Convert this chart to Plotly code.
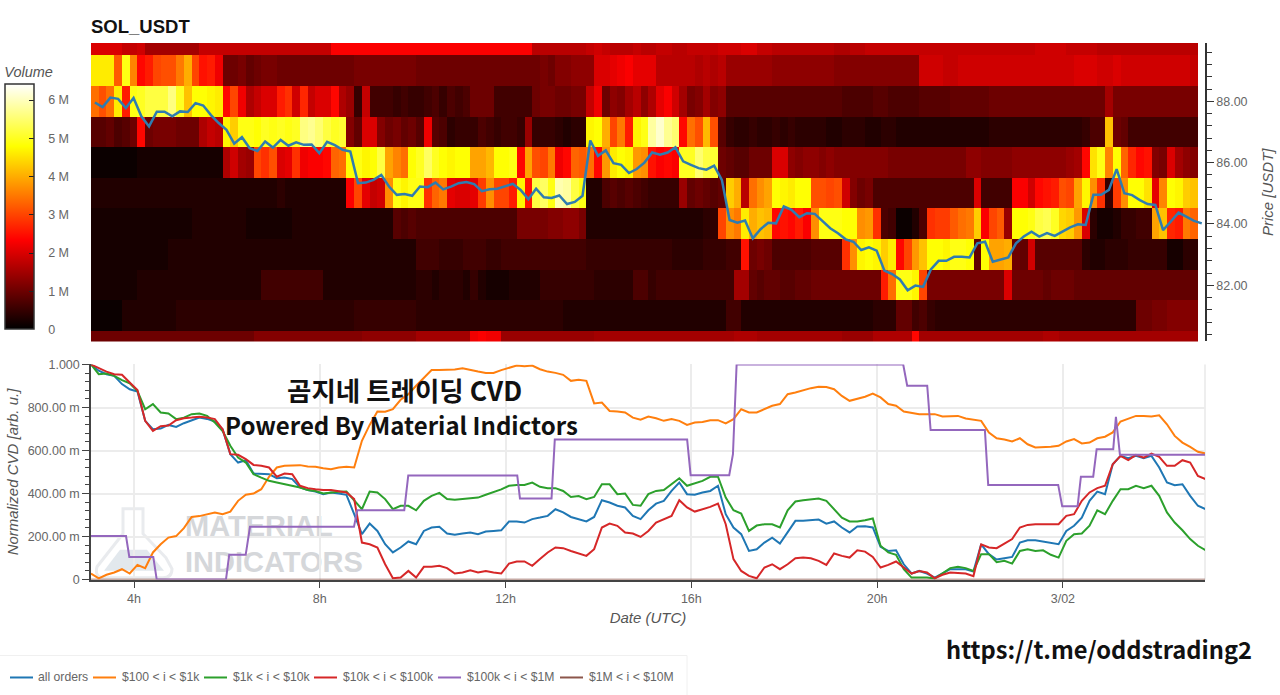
import pandas as pd
import plotly.graph_objects as go

# Volume heatmap, one list per price level, in millions (10 min columns)
row_80 = [1.0,1.0,1.0,1.0,1.0,1.0,1.0,1.0,1.0,1.0,
          1.0,1.0,1.0,1.0,1.0,1.0,1.0,1.0,1.0,1.0,
          1.0,1.2,1.2,1.2,1.2,1.2,1.2,1.2,1.2,1.2,
          1.2,1.2,1.2,1.2,1.2,1.3,1.3,1.3,1.3,1.3,
          1.3,1.3,1.5,1.5,1.5,1.5,1.5,1.5,1.5,2.2,
          2.3,2.2,2.2,1.4,1.4,1.4,1.4,1.4,1.4,1.4,
          1.4,1.4,1.4,1.4,1.4,1.5,1.5,1.5,1.5,1.5,
          1.5,1.5,1.5,1.5,1.5,1.5,1.5,1.5,1.5,1.5,
          1.5,1.5,1.5,1.6,1.6,1.6,1.5,1.5,1.5,1.5,
          1.5,1.5,1.5,1.5,1.5,1.5,1.5,1.4,1.4,1.4,
          1.4,1.6,1.6,1.6,1.6,1.6,2.4,1.5,1.5,1.5,
          1.5,1.5,1.5,1.5,1.5,1.5,1.5,1.5,1.5,1.5,
          1.5,1.5,1.5,1.6,1.6,1.5,1.5,1.5,1.5,1.5,
          1.5,1.5,1.5,1.5,1.5,1.5,1.5,1.5,1.5,1.5,
          1.5,1.5,1.5]
row_81 = [0.1,0.1,0.1,0.1,0.3,0.3,0.3,0.3,0.3,0.3,
          0.3,0.4,0.4,0.4,0.4,0.4,0.4,0.4,0.4,0.4,
          0.4,0.4,0.4,0.4,0.4,0.4,0.4,0.4,0.4,0.4,
          0.4,0.4,0.4,0.4,0.5,0.5,0.5,0.5,0.5,0.5,
          0.5,0.5,0.4,0.4,0.4,0.4,0.4,0.4,0.4,0.4,
          0.4,0.4,0.4,0.4,0.4,0.4,0.4,0.4,0.4,0.4,
          0.4,0.3,0.3,0.3,0.3,0.3,0.3,0.3,0.3,0.3,
          0.3,0.3,0.3,0.3,0.3,0.3,0.3,0.3,0.3,0.3,
          0.3,0.3,0.6,0.6,0.3,0.3,0.3,0.3,0.3,0.3,
          0.3,0.3,0.3,0.3,0.3,0.3,0.3,0.3,0.3,0.3,
          0.3,0.4,0.4,0.4,0.9,0.9,0.6,0.7,0.5,0.4,
          0.4,0.4,0.4,0.4,0.4,0.4,0.4,0.4,0.4,0.4,
          0.4,0.4,0.4,0.4,0.4,0.4,0.4,0.4,0.4,0.4,
          0.4,0.4,0.4,0.4,0.4,1.0,1.0,1.1,1.1,1.2,
          1.2,1.2,1.2]
row_82 = [0.2,0.2,0.2,0.2,0.2,0.2,0.3,0.3,0.3,0.3,
          0.3,0.3,0.3,0.3,0.3,0.3,0.3,0.3,0.3,0.3,
          0.3,0.3,0.6,0.6,0.6,0.6,0.6,0.6,0.6,0.6,
          0.3,0.3,0.3,0.3,0.3,0.3,0.3,0.3,0.3,0.3,
          0.3,0.3,0.4,0.4,0.3,0.4,0.4,0.4,0.3,0.5,
          0.3,0.2,0.2,0.2,0.3,0.3,0.3,0.3,0.5,0.5,
          0.5,0.5,0.5,0.5,0.5,0.4,0.4,0.4,0.4,0.4,
          0.7,0.7,0.5,0.6,0.6,0.6,0.6,0.6,0.6,0.6,
          0.6,0.6,0.6,1.5,1.5,0.9,0.8,0.9,0.9,0.8,
          0.8,0.9,0.9,1.0,1.0,1.0,1.0,1.0,1.0,1.0,
          1.0,1.0,2.6,3.4,4.9,4.9,4.7,3.0,1.1,1.1,
          1.1,1.1,1.1,1.1,1.1,1.1,1.1,1.1,2.0,1.0,
          1.0,1.0,1.0,0.9,1.0,1.0,1.0,0.9,0.9,0.9,
          0.9,0.9,0.9,0.9,0.9,0.9,0.9,0.9,0.9,0.9,
          0.9,0.9,0.9]
row_83 = [0.2,0.2,0.2,0.2,0.2,0.2,0.2,0.2,0.2,0.2,
          0.3,0.3,0.3,0.3,0.3,0.3,0.3,0.3,0.3,0.3,
          0.3,0.3,0.3,0.3,0.3,0.3,0.3,0.3,0.3,0.3,
          0.3,0.3,0.3,0.3,0.3,0.3,0.3,0.3,0.3,0.3,
          0.3,0.3,0.6,0.6,0.6,0.5,0.5,0.5,0.6,0.6,
          0.6,0.5,0.5,0.6,0.6,0.6,0.6,0.6,0.6,0.6,
          0.6,0.6,0.6,0.6,0.5,0.5,0.5,0.5,0.5,0.5,
          0.5,0.5,0.5,0.5,0.5,0.4,0.4,0.4,0.4,0.5,
          0.5,0.5,0.6,0.6,2.5,1.0,1.1,1.0,0.7,0.7,
          0.7,0.7,0.7,0.8,0.8,0.8,0.8,2.8,3.7,4.7,
          4.8,4.7,4.3,4.6,2.4,3.0,3.8,4.2,4.8,4.8,
          4.7,4.9,4.9,4.8,0.9,4.8,3.9,3.9,4.0,1.0,
          0.9,1.9,0.8,0.8,0.8,0.8,0.8,0.8,0.4,0.3,
          0.3,0.4,0.4,0.4,0.5,0.5,0.5,0.5,0.5,0.2,
          0.2,0.4,0.4]
row_84 = [0.2,0.2,0.2,0.2,0.2,0.2,0.2,0.2,0.2,0.2,
          0.2,0.2,0.2,0.3,0.3,0.3,0.3,0.3,0.3,0.3,
          0.2,0.2,0.2,0.2,0.2,0.2,0.3,0.3,0.3,0.3,
          0.3,0.3,0.3,0.3,0.3,0.3,0.3,0.3,0.3,0.8,
          0.7,0.8,0.7,0.7,0.7,0.7,0.7,0.7,0.7,0.7,
          0.7,0.7,0.7,0.7,0.7,1.1,1.1,1.1,1.1,1.2,
          1.2,1.3,1.3,1.1,0.3,0.3,0.3,0.3,0.3,0.3,
          0.3,0.3,0.3,0.3,0.3,0.3,0.3,0.3,0.3,0.4,
          0.4,3.0,3.7,3.5,4.6,4.0,4.2,4.1,2.4,2.5,
          2.4,2.6,2.3,3.7,4.9,4.9,4.9,4.8,4.8,3.7,
          3.8,2.8,0.7,0.6,0.1,0.1,0.3,0.7,2.8,2.9,
          2.9,3.2,3.4,3.5,4.3,2.3,3.0,3.2,1.4,4.8,
          4.8,4.9,5.2,5.3,5.0,4.4,4.3,3.8,2.0,0.4,
          0.2,0.2,0.3,0.5,0.5,0.6,0.6,3.9,4.2,2.7,
          2.6,3.5,3.3]
row_85 = [0.3,0.3,0.3,0.3,0.3,0.3,0.3,0.3,0.3,0.3,
          0.3,0.3,0.3,0.3,0.3,0.3,0.3,0.3,0.3,0.3,
          0.3,0.3,0.3,0.3,0.4,0.3,0.3,0.3,0.3,0.3,
          0.3,0.3,0.3,2.3,3.0,2.1,1.8,1.9,3.7,4.9,
          4.7,4.9,4.9,2.8,3.3,3.5,2.1,2.0,2.0,2.1,
          2.9,3.7,3.0,3.0,2.6,4.7,2.5,5.2,5.4,4.9,
          5.9,5.8,5.2,4.9,0.3,0.3,0.7,0.8,0.7,0.8,
          0.7,0.6,0.5,0.5,0.5,0.5,1.4,0.9,1.0,0.9,
          0.8,0.9,4.3,4.0,1.7,3.4,3.7,3.9,4.8,4.7,
          4.6,4.8,4.8,3.1,3.1,3.0,3.1,1.9,1.2,1.0,
          1.1,0.7,0.7,0.7,0.7,0.7,0.7,0.7,0.7,0.7,
          0.7,0.7,0.7,0.7,2.0,0.6,0.6,0.6,0.6,2.3,
          2.3,1.9,2.4,2.5,2.6,3.1,3.0,3.9,4.7,3.7,
          2.8,0.5,2.9,3.7,4.8,4.8,4.5,2.1,3.6,4.8,
          4.7,4.3,4.2]
row_86 = [0.1,0.1,0.1,0.1,0.1,0.1,0.2,0.2,0.2,0.2,
          0.2,0.2,0.2,0.2,0.2,0.2,0.2,1.6,1.9,1.5,
          1.4,3.0,2.8,3.1,2.0,2.1,2.8,2.2,2.3,2.3,
          2.4,3.3,3.4,4.8,4.9,4.7,4.8,5.2,3.9,3.6,
          3.4,4.8,5.0,5.4,5.0,4.8,4.7,4.8,4.8,3.9,
          3.9,4.1,4.8,4.8,4.9,2.4,3.9,3.1,3.0,3.5,
          2.2,2.4,3.3,3.2,3.4,2.4,3.8,4.6,4.8,4.7,
          3.8,3.7,2.5,2.3,2.4,2.3,5.0,5.0,5.5,5.2,
          5.1,1.0,0.9,0.8,0.8,1.0,1.0,1.0,2.0,2.0,
          1.3,1.2,1.3,1.3,1.2,1.3,1.2,1.2,1.2,1.2,
          1.2,1.2,1.2,1.1,1.1,1.1,1.1,1.1,1.1,1.1,
          1.1,1.1,1.1,1.3,1.3,1.2,1.2,1.2,1.2,1.3,
          1.3,1.3,1.3,1.3,1.3,1.3,1.4,1.5,2.4,4.5,
          4.9,3.6,4.8,3.3,2.7,2.4,2.5,1.2,1.1,2.0,
          1.5,1.3,1.2]
row_87 = [0.8,0.8,0.9,0.7,0.8,1.0,2.4,1.0,1.1,1.1,
          1.1,1.0,1.0,1.0,1.6,1.8,1.7,4.7,4.3,4.9,
          4.9,4.8,5.0,4.9,5.0,4.9,5.0,5.6,5.7,5.5,
          5.2,5.0,5.1,1.2,0.9,2.0,2.0,1.2,1.0,1.1,
          0.9,1.0,0.8,2.2,0.8,0.7,0.4,0.5,0.5,0.5,
          0.7,0.6,0.5,0.6,0.6,0.5,1.4,0.5,0.5,0.5,
          0.4,0.3,0.4,0.4,4.7,4.8,4.0,3.0,3.5,2.6,
          4.7,4.9,5.8,6.1,5.7,5.5,2.4,3.4,3.1,4.1,
          3.1,0.8,0.5,0.4,0.4,0.5,0.4,0.4,0.5,0.4,
          0.5,0.4,0.4,0.4,0.4,0.3,0.3,0.4,0.4,0.4,
          0.3,0.3,0.4,0.4,0.3,0.3,0.3,0.3,0.3,0.3,
          0.3,0.3,0.3,0.3,0.3,0.3,0.4,0.4,0.4,0.4,
          0.4,0.4,0.4,0.4,0.4,0.4,0.4,0.4,0.5,0.7,
          0.7,4.2,1.0,0.9,0.6,0.6,0.6,0.6,0.6,0.6,
          0.6,0.6,0.6]
row_88 = [3.4,3.1,3.4,4.6,2.6,4.9,5.0,5.2,5.2,5.2,
          5.6,5.0,4.2,4.8,4.8,4.7,4.6,2.4,3.0,2.2,
          1.6,1.8,2.0,2.0,2.6,2.8,1.9,2.7,1.8,2.0,
          2.0,2.4,1.6,1.4,0.5,1.8,0.6,0.6,0.6,0.5,
          0.6,0.5,0.5,0.6,0.7,0.5,0.7,0.6,0.7,1.0,
          1.0,1.0,0.6,0.6,0.6,0.6,0.6,1.0,1.1,1.1,
          1.0,1.0,1.1,1.1,1.8,2.2,1.0,1.3,1.2,1.5,
          1.7,1.3,1.6,2.1,2.3,1.9,1.5,1.1,1.2,1.5,
          1.2,1.3,0.8,0.8,0.8,0.8,0.8,0.8,0.8,0.8,
          0.8,0.8,0.8,0.8,0.8,0.8,0.8,0.7,0.7,0.7,
          0.7,0.8,0.8,0.7,0.7,0.7,0.7,0.8,0.8,0.8,
          0.8,0.9,0.9,0.9,0.9,0.9,1.0,1.0,1.0,1.0,
          1.0,1.0,1.0,1.0,1.0,1.0,1.0,1.0,1.0,1.0,
          1.0,1.5,1.1,1.1,1.1,1.1,1.1,1.1,1.1,1.1,
          1.1,1.1,1.1]
row_89 = [4.6,4.6,4.6,3.2,4.9,3.6,2.4,2.6,3.0,3.1,
          3.1,3.5,4.0,3.0,2.5,2.6,2.2,1.0,1.0,1.1,
          0.9,1.0,1.1,1.1,1.0,1.0,1.0,1.0,1.0,1.0,
          1.0,1.0,1.0,1.0,1.1,1.1,1.1,1.1,1.1,1.1,
          1.1,1.1,1.0,1.0,1.0,1.0,1.0,1.0,1.0,1.0,
          1.0,1.0,1.0,1.0,1.0,1.0,1.0,1.0,1.1,1.0,
          1.2,1.2,1.3,1.3,1.3,2.0,2.0,2.1,2.2,2.3,
          2.1,2.1,2.1,1.7,1.7,1.7,1.7,1.7,1.6,1.7,
          1.6,1.7,1.4,1.4,1.4,1.4,1.4,1.4,1.3,1.3,
          1.3,1.3,1.3,1.3,1.3,1.3,1.2,1.2,1.2,1.2,
          1.2,1.2,1.2,1.2,1.2,1.2,1.2,1.9,1.9,1.9,
          1.8,1.8,1.9,1.9,1.9,1.9,1.9,1.9,1.9,1.9,
          1.9,1.9,1.9,1.9,1.9,1.9,1.9,2.0,2.0,2.0,
          1.9,1.9,2.0,1.9,1.9,1.9,1.9,1.9,1.9,1.9,
          1.9,1.9,1.8]
row_90 = [2.0,2.0,2.0,2.0,1.8,1.8,1.9,1.5,1.5,1.5,
          1.5,1.5,1.5,1.5,1.8,1.8,1.8,1.8,1.8,1.8,
          1.8,1.8,1.8,1.8,1.8,1.8,1.8,1.8,1.8,1.8,
          1.8,2.3,2.3,2.3,2.3,2.3,2.3,2.3,2.3,2.3,
          2.3,2.3,2.3,2.3,2.3,2.3,2.3,2.3,2.3,2.3,
          2.3,2.3,2.3,2.3,2.3,2.3,2.3,1.7,1.7,1.7,
          1.7,1.7,1.7,1.7,1.8,1.9,1.8,1.7,1.7,1.7,
          1.8,1.7,1.7,1.8,1.8,1.7,1.7,1.8,1.8,1.8,
          1.8,1.9,1.9,1.9,2.0,2.0,1.8,1.8,1.7,1.7,
          1.7,1.7,1.7,1.7,1.7,1.7,1.6,1.6,1.7,1.7,
          1.8,1.8,1.8,1.8,1.8,1.8,1.8,1.8,1.8,1.8,
          1.8,1.8,1.8,1.8,1.8,1.8,1.8,1.8,1.8,1.8,
          1.8,1.8,1.9,1.9,1.9,1.9,1.8,1.8,1.8,1.8,
          1.7,1.7,1.7,1.7,1.7,1.7,1.7,1.7,1.7,1.7,
          1.7,1.7,1.7]
price_levels = [80, 81, 82, 83, 84, 85, 86, 87, 88, 89, 90]

# Price in USDT, sampled at the middle of each column
price = [87.96,87.81,88.12,88.08,87.78,88.11,87.51,87.18,87.66,87.66,
         87.51,87.67,87.65,87.94,87.86,87.55,87.29,87.07,86.62,86.83,
         86.47,86.38,86.69,86.49,86.74,86.55,86.66,86.58,86.59,86.31,
         86.68,86.57,86.42,86.36,85.33,85.35,85.44,85.60,85.22,84.95,
         84.98,84.92,85.22,85.20,85.35,85.13,85.22,85.33,85.37,85.30,
         85.07,85.13,85.15,85.22,85.31,85.11,84.81,85.15,84.87,84.85,
         84.93,84.65,84.72,84.92,86.72,86.22,86.40,85.98,85.93,85.66,
         85.79,86.00,86.33,86.26,86.33,86.50,86.04,85.93,85.82,85.77,
         85.90,85.44,84.13,84.04,84.11,83.53,83.83,84.04,84.02,84.57,
         84.46,84.22,84.35,84.33,84.08,83.86,83.70,83.50,83.42,83.15,
         83.24,83.13,82.48,82.37,82.19,81.84,81.99,81.95,82.52,82.80,
         82.80,82.93,82.93,82.91,83.37,83.42,82.77,82.85,82.91,83.37,
         83.59,83.75,83.59,83.70,83.61,83.75,83.89,83.99,83.97,84.95,
         84.95,85.11,85.79,85.00,84.94,84.78,84.65,84.62,83.80,84.08,
         84.37,84.24,84.10,84.02]

# Normalized CVD per order size, every 10 min
all_orders = [1.0,.971,.955,.947,.909,.885,.874,.738,.699,.702,
              .719,.71,.727,.741,.753,.747,.735,.699,.583,.544,
              .555,.493,.49,.49,.471,.474,.467,.428,.416,.409,
              .397,.405,.4,.394,.304,.211,.26,.226,.164,.126,
              .149,.177,.164,.226,.242,.245,.214,.208,.214,.219,
              .211,.223,.226,.229,.27,.27,.265,.281,.288,.296,
              .327,.312,.291,.281,.27,.291,.369,.358,.343,.335,
              .296,.281,.322,.353,.366,.412,.451,.397,.394,.405,
              .412,.436,.304,.242,.211,.133,.141,.172,.195,.167,
              .219,.273,.273,.276,.279,.26,.27,.242,.219,.247,
              .248,.242,.152,.133,.136,.071,.028,.04,.028,.009,
              .028,.048,.048,.048,.037,.164,.118,.093,.099,.105,
              .172,.183,.183,.177,.172,.164,.226,.25,.288,.366,
              .409,.397,.536,.575,.564,.575,.564,.575,.521,.451,
              .439,.443,.389,.343,.327]
usd_100_1k = [.028,.005,.022,.033,.048,.028,.068,.053,.126,.164,
              .195,.202,.239,.291,.295,.304,.312,.304,.316,.366,
              .394,.4,.42,.478,.521,.529,.529,.532,.526,.524,
              .518,.513,.521,.524,.521,.645,.719,.781,.78,.792,
              .836,.862,.901,.94,.974,.974,.974,.977,.983,.974,
              .967,.96,.961,.974,.986,.995,.992,.995,.978,.967,
              .961,.952,.924,.929,.924,.819,.823,.784,.781,.777,
              .753,.743,.758,.75,.738,.746,.738,.719,.73,.733,
              .741,.741,.726,.746,.792,.777,.777,.792,.808,.816,
              .862,.87,.881,.89,.896,.895,.885,.854,.831,.839,
              .85,.865,.847,.816,.808,.781,.774,.769,.769,.769,
              .758,.761,.761,.749,.743,.738,.684,.657,.651,.642,
              .657,.629,.614,.614,.617,.622,.642,.653,.633,.637,
              .657,.664,.684,.735,.749,.761,.761,.758,.764,.722,
              .668,.637,.617,.594,.586]
usd_1k_10k = [1.0,.955,.958,.947,.927,.913,.877,.792,.816,.777,
              .772,.746,.753,.769,.772,.761,.73,.691,.622,.567,
              .544,.49,.474,.459,.451,.443,.436,.428,.416,.412,
              .4,.405,.408,.409,.366,.327,.409,.405,.374,.327,
              .343,.343,.322,.366,.389,.403,.374,.371,.374,.378,
              .381,.394,.405,.419,.436,.44,.44,.451,.431,.425,
              .425,.412,.384,.388,.374,.384,.443,.443,.397,.4,
              .347,.343,.397,.412,.416,.443,.471,.436,.447,.459,
              .478,.478,.381,.322,.307,.226,.251,.257,.257,.242,
              .322,.363,.369,.374,.377,.366,.327,.288,.27,.27,
              .276,.284,.157,.126,.115,.048,.009,.009,.009,.005,
              .028,.053,.059,.053,.04,.118,.118,.081,.087,.074,
              .133,.141,.133,.136,.115,.102,.18,.211,.214,.25,
              .322,.304,.366,.42,.42,.436,.425,.436,.389,.312,
              .265,.229,.188,.157,.136]
usd_10k_100k = [1.0,.983,.967,.955,.952,.916,.881,.738,.691,.713,
                .716,.741,.75,.753,.757,.753,.746,.699,.583,.58,
                .56,.533,.529,.521,.478,.493,.49,.436,.425,.42,
                .416,.416,.412,.405,.374,.172,.164,.149,.071,.006,
                .009,.04,.009,.059,.059,.064,.053,.028,.033,.043,
                .033,.04,.033,.028,.074,.084,.084,.064,.095,.126,
                .149,.146,.133,.121,.11,.141,.242,.26,.25,.219,
                .214,.198,.226,.265,.281,.296,.369,.335,.316,.327,
                .338,.353,.257,.095,.04,.017,.006,.056,.071,.048,
                .071,.099,.102,.099,.087,.068,.121,.11,.102,.136,
                .13,.105,.056,.068,.084,.056,.028,.04,.033,.006,
                .022,.033,.031,.028,.016,.164,.149,.146,.167,.188,
                .242,.254,.257,.257,.257,.257,.296,.304,.366,.405,
                .425,.436,.536,.575,.555,.58,.567,.586,.571,.529,
                .529,.555,.544,.482,.467]

# This one moves in steps, so it has its own hours (UTC, from midnight)
usd_100k_1m_hours = [3.074,3.828,3.899,4.415,4.489,5.98,6.05,6.405,6.497,8.736,
                     8.807,9.819,9.905,12.252,12.31,12.99,13.06,15.91,15.985,16.816,
                     16.896,16.975,20.562,20.648,21.079,21.152,22.321,22.392,23.899,23.985,
                     24.317,24.388,24.653,24.727,25.084,25.142,25.228,27.07]
usd_100k_1m = [.202,.202,.105,.105,0,0,.115,.115,.245,.245,
               .322,.322,.484,.484,.377,.377,.651,.651,.485,.485,
               .583,1.0,1.0,.901,.901,.695,.695,.44,.44,.341,
               .341,.478,.478,.606,.606,.757,.58,.58]
usd_1m_10m_hours = [3.074, 27.07]
usd_1m_10m = [0, 0]

cvd_names = ["all orders", "$100 < i < $1k", "$1k < i < $10k", "$10k < i < $100k",
             "$100k < i < $1M", "$1M < i < $10M"]
cvd_colors = ["#1f77b4", "#ff7f0e", "#2ca02c", "#d62728", "#9467bd", "#8c564b"]
legend_line_x = [10, 93, 204, 314, 438, 560]
legend_text_x = [36, 120, 231, 341, 465, 587]

midnight = pd.Timestamp("2026-03-01")
start = midnight + pd.Timedelta(hours=3.074)
end = midnight + pd.Timedelta(hours=27.06)
column_times = pd.date_range(start + pd.Timedelta(minutes=5), periods=143, freq="10min")
price_times = pd.date_range(start + pd.Timedelta(minutes=5), periods=144, freq="10min")
cvd_times = pd.date_range(start, periods=145, freq="10min")
tick_hours = [4, 8, 12, 16, 20, 24]
tick_labels = ["4h", "8h", "12h", "16h", "20h", "3/02"]
tick_times = [midnight + pd.Timedelta(hours=h) for h in tick_hours]

W, H = 1280, 695
# margin b=0 stops the 12px padding when the colorbar pushes the margins,
# plotly still leaves about 8px at the bottom, so B is used in py()
L, R, T, B = 91, 75, 43, 8
GREY = "#666666"
FONT = "Liberation Sans"


def px(x):
    return (x - L) / (W - L - R)


def py(y):
    return 1 - (y - T) / (H - T - B)


fig = go.Figure()

# Heatmap with the hot colour map
fig.add_trace(go.Heatmap(
    x=column_times,
    y=price_levels,
    z=[row_80, row_81, row_82, row_83, row_84, row_85, row_86, row_87, row_88, row_89, row_90],
    zmin=0,
    zmax=6.41,
    colorscale=[[0, "#000000"], [0.365, "#ff0000"], [0.746, "#ffff00"], [1, "#ffffff"]],
    colorbar=dict(
        x=px(5), xanchor="left",
        y=py(329), yanchor="bottom",
        thickness=29, thicknessmode="pixels",
        len=266, lenmode="pixels",
        xpad=0, ypad=0,
        outlinecolor="#333333", outlinewidth=1.5,
        ticks="inside", ticklen=5, tickcolor="#222222",
        tickvals=[0, 1, 2, 3, 4, 5, 6],
        ticktext=["\u00a0\u00a0\u00a00", "\u00a0\u00a0\u00a01 M", "\u00a0\u00a0\u00a02 M", "\u00a0\u00a0\u00a03 M",
                  "\u00a0\u00a0\u00a04 M", "\u00a0\u00a0\u00a05 M", "\u00a0\u00a0\u00a06 M"],
        tickfont=dict(family=FONT, size=12.5, color=GREY),
        title=dict(text="Volume", side="top", font=dict(family=FONT, size=14.5, color="#555555", style="italic")),
    ),
    xaxis="x", yaxis="y",
    hovertemplate="%{x}<br>%{y}<br>%{z} M<extra></extra>",
))

fig.add_trace(go.Scatter(
    x=price_times, y=price, mode="lines", name="price",
    line=dict(color="#2f7cb0", width=2.5),
    showlegend=False, xaxis="x", yaxis="y",
))

# CVD lines, the flat one first so the rest stay on top of it
fig.add_trace(go.Scatter(
    x=[midnight + pd.Timedelta(hours=h) for h in usd_1m_10m_hours], y=usd_1m_10m,
    mode="lines", name=cvd_names[5], line=dict(color=cvd_colors[5], width=1.5),
    showlegend=False, xaxis="x2", yaxis="y2",
))
cvd_series = [all_orders, usd_100_1k, usd_1k_10k, usd_10k_100k]
for name, color, values in zip(cvd_names[:4], cvd_colors[:4], cvd_series):
    fig.add_trace(go.Scatter(
        x=cvd_times, y=values, mode="lines", name=name,
        line=dict(color=color, width=2),
        showlegend=False, xaxis="x2", yaxis="y2",
    ))
fig.add_trace(go.Scatter(
    x=[midnight + pd.Timedelta(hours=h) for h in usd_100k_1m_hours], y=usd_100k_1m,
    mode="lines", name=cvd_names[4], line=dict(color=cvd_colors[4], width=2),
    showlegend=False, xaxis="x2", yaxis="y2",
))

annotations = [
    dict(text="<b>곰지네 트레이딩 CVD</b>", x=px(404), y=py(389),
         font=dict(family="Noto Sans CJK KR", size=26.5, color="#111111")),
    dict(text="<b>Powered By Material Indictors</b>", x=px(401), y=py(424),
         font=dict(family="Noto Sans CJK KR", size=24, color="#111111")),
    dict(text="<b>https://t.me/oddstrading2</b>", x=px(1099), y=py(648),
         font=dict(family="Noto Sans CJK KR", size=23.7, color="#111111")),
]
for name, x in zip(cvd_names, legend_text_x):
    annotations.append(dict(text=name.replace("$", "&#36;"), x=px(x), y=py(676), xanchor="left",
                            font=dict(family=FONT, size=12.2, color=GREY)))
for a in annotations:
    a.update(xref="paper", yref="paper", showarrow=False, yanchor="middle")
    a.setdefault("xanchor", "center")

shapes = [
    # light line on the right of the lower plot
    dict(type="line", xref="paper", yref="paper", x0=px(1205), x1=px(1205), y0=py(579), y1=py(364),
         line=dict(color="#e8e8e8", width=1.5), layer="below"),
    # legend frame
    dict(type="line", xref="paper", yref="paper", x0=px(0), x1=px(687), y0=py(654.5), y1=py(654.5),
         line=dict(color="#f0f0f0", width=1)),
    dict(type="line", xref="paper", yref="paper", x0=px(687), x1=px(687), y0=py(654.5), y1=py(695),
         line=dict(color="#f0f0f0", width=1)),
    # flask of the watermark
    dict(type="path", xref="paper", yref="paper", layer="below",
         path="M {} {} L {} {} L {} {} L {} {} L {} {} Q {} {} {} {} L {} {} Q {} {} {} {} L {} {} L {} {} Z".format(
             px(123), py(508), px(143), py(508), px(143), py(533), px(166), py(557), px(172), py(568),
             px(172), py(577), px(163), py(577), px(105), py(577), px(94), py(577), px(97), py(566),
             px(123), py(533), px(123), py(508)),
         line=dict(color="#e9ebee", width=3), fillcolor="rgba(0,0,0,0)"),
    dict(type="path", xref="paper", yref="paper", layer="below",
         path="M {} {} L {} {} L {} {} L {} {} Z".format(
             px(104), py(570), px(120), py(549), px(147), py(549), px(164), py(570)),
         line=dict(width=0), fillcolor="#e2e8ed"),
]
for x0, color in zip(legend_line_x, cvd_colors):
    shapes.append(dict(type="line", xref="paper", yref="paper", x0=px(x0), x1=px(x0 + 23), y0=py(676.5), y1=py(676.5),
                       line=dict(color=color, width=2)))
# watermark text, kept below the lines
for word, y0, y1 in [("MATERIAL", 508, 537), ("INDICATORS", 545, 572)]:
    shapes.append(dict(type="rect", xref="paper", yref="paper", layer="below",
                       x0=px(182), x1=px(365), y0=py(y1), y1=py(y0), line=dict(width=0),
                       label=dict(text=word, textposition="middle left", padding=0,
                                  font=dict(family=FONT, size=29, color="#d5d7da", weight="bold"))))

fig.update_layout(
    width=W,
    height=H,
    autosize=False,
    margin=dict(l=L, r=R, t=T, b=0),
    paper_bgcolor="white",
    plot_bgcolor="white",
    showlegend=False,
    title=dict(text="<b>SOL_USDT</b>", x=91 / W, y=1 - 27 / H, xanchor="left", yanchor="middle",
               xref="container", yref="container",
               font=dict(family=FONT, size=18.5, color="#111111")),
    annotations=annotations,
    shapes=shapes,
    xaxis=dict(domain=[0, 1], range=[start, end], matches="x2", visible=False),
    yaxis=dict(
        domain=[py(341), py(43)], range=[80.17, 89.9], side="right", anchor="x",
        showgrid=False, zeroline=False, showline=True, linecolor="#333333", linewidth=1.5,
        ticks="outside", ticklen=7, tickcolor="#333333", tick0=0, dtick=2, tickformat=".2f",
        minor=dict(ticks="outside", ticklen=5, tick0=0, dtick=0.4, tickcolor="#333333", showgrid=False),
        tickfont=dict(family=FONT, size=12.5, color=GREY),
        title=dict(text="Price [USDT]", standoff=16, font=dict(family=FONT, size=15, color="#555555", style="italic")),
    ),
    xaxis2=dict(
        domain=[0, 1], range=[start, end], anchor="y2",
        tickvals=tick_times, ticktext=tick_labels,
        showgrid=True, gridcolor="#ececec", gridwidth=1.5,
        showline=True, linecolor="#444444", linewidth=2, zeroline=False,
        ticks="outside", ticklen=6, tickcolor="#444444",
        tickfont=dict(family=FONT, size=12.5, color=GREY),
        title=dict(text="Date (UTC)", standoff=8, font=dict(family=FONT, size=15, color="#555555", style="italic")),
    ),
    yaxis2=dict(
        domain=[py(578.7), py(364)], range=[0, 1], anchor="x2",
        tickvals=[0, 0.2, 0.4, 0.6, 0.8, 1.0],
        ticktext=["0", "200.00 m", "400.00 m", "600.00 m", "800.00 m", "1.000"],
        showgrid=True, gridcolor="#ececec", gridwidth=1.5, zeroline=False,
        showline=True, linecolor="#444444", linewidth=1.5,
        ticks="outside", ticklen=7, tickcolor="#444444",
        minor=dict(ticks="outside", ticklen=4, tick0=0, dtick=0.04, tickcolor="#444444", showgrid=False),
        tickfont=dict(family=FONT, size=12.5, color=GREY),
        title=dict(text="Normalized CVD [arb. u.]", standoff=5, font=dict(family=FONT, size=15, color="#555555", style="italic")),
    ),
)

fig.write_html("out.html", config=dict(displayModeBar=False),
               post_script="document.body.style.margin='0';document.documentElement.style.overflow='hidden';")
